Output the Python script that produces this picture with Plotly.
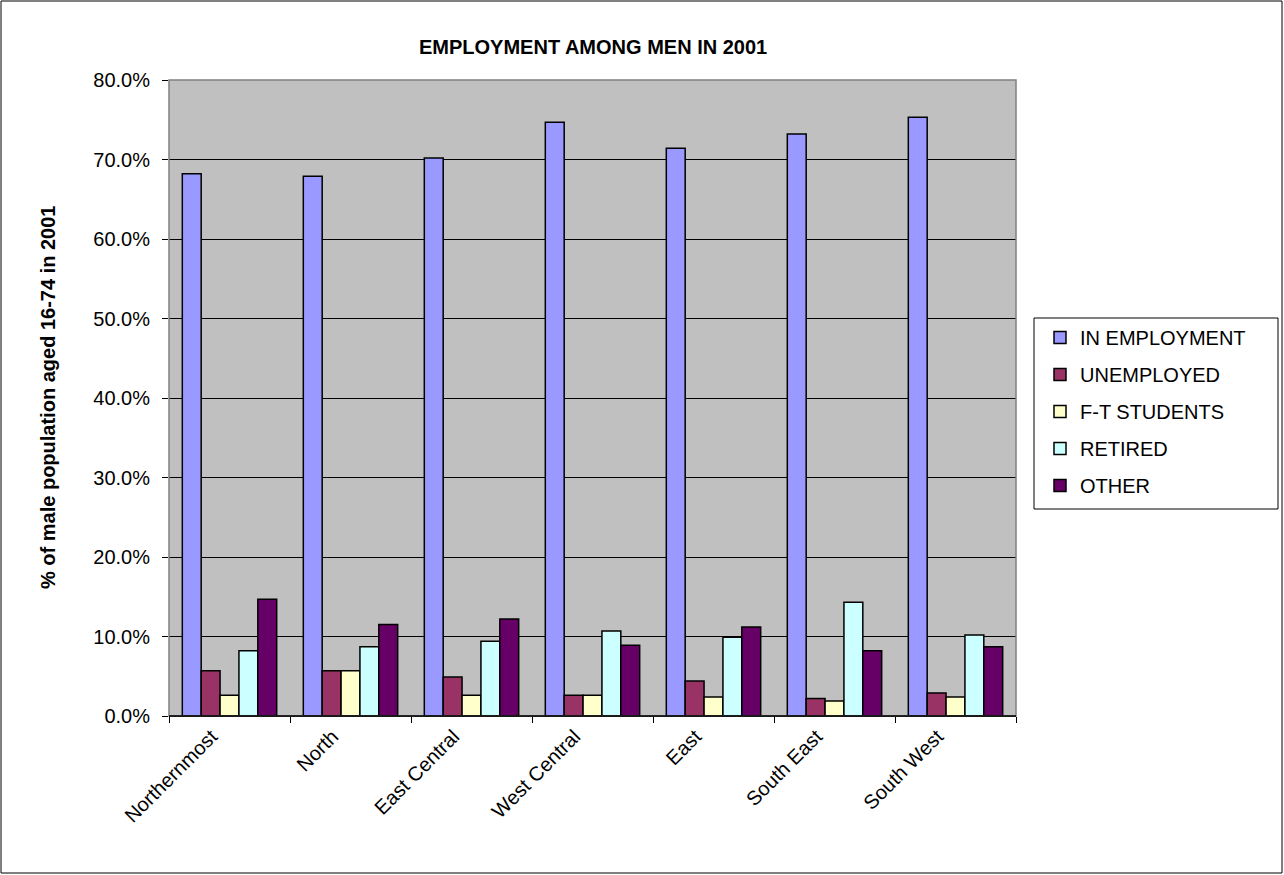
import plotly.graph_objects as go

regions = ["Northernmost", "North", "East Central", "West Central", "East", "South East", "South West"]
in_employment = [68.2, 67.9, 70.2, 74.7, 71.4, 73.2, 75.3]
unemployed = [5.7, 5.7, 4.9, 2.6, 4.4, 2.2, 2.9]
ft_students = [2.6, 5.7, 2.6, 2.6, 2.4, 1.9, 2.4]
retired = [8.2, 8.7, 9.4, 10.7, 9.9, 14.3, 10.2]
other = [14.7, 11.5, 12.2, 8.9, 11.2, 8.2, 8.7]

series_names = ["IN EMPLOYMENT", "UNEMPLOYED", "F-T STUDENTS", "RETIRED", "OTHER"]
series_values = [in_employment, unemployed, ft_students, retired, other]
series_colors = ["#9999FF", "#993366", "#FFFFCC", "#CCFFFF", "#660066"]

W, H = 1284, 875
L, R, T, B = 169, 1016, 80, 716
pw, ph = R - L, B - T

def px_x(x):
    return (x - L) / pw

def px_y(y):
    return (B - y) / ph

fig = go.Figure()
for i, (name, vals, col) in enumerate(zip(series_names, series_values, series_colors)):
    fig.add_trace(go.Bar(
        x=regions, y=vals, name=name, legendgroup=f"g{i}",
        marker=dict(color=col, line=dict(color="black", width=1.5)),
    ))

font = "Arial, Liberation Sans, sans-serif"

fig.update_layout(
    width=W, height=H,
    margin=dict(l=L, r=W - R, t=T, b=H - B),
    paper_bgcolor="white",
    plot_bgcolor="#C0C0C0",
    barmode="group",
    bargap=0.22,
    bargroupgap=0,
    font=dict(family=font, size=20, color="black"),
    showlegend=True,
    legend=dict(
        x=px_x(1040), y=px_y(318), xanchor="left", yanchor="top",
        borderwidth=0, bgcolor="rgba(0,0,0,0)",
        font=dict(family=font, size=20, color="black"),
        tracegroupgap=8,
        itemwidth=30,
    ),
    xaxis=dict(
        type="category",
        tickangle=-45,
        ticks="outside", ticklen=6, tickcolor="black",
        tickson="boundaries",
        ticklabelshift=-18,
        showline=True, linecolor="black", linewidth=1,
        showgrid=False,
        tickfont=dict(family=font, size=20),
    ),
    yaxis=dict(
        range=[0, 80], dtick=10, tickformat=".1f", ticksuffix="%",
        ticks="outside", ticklen=6, tickcolor="black",
        ticklabelstandoff=8,
        showgrid=True, gridcolor="#000000", gridwidth=1,
        showline=False, zeroline=False,
        tickfont=dict(family=font, size=20),
    ),
    annotations=[
        dict(text="<b>EMPLOYMENT AMONG MEN IN 2001</b>", xref="paper", yref="paper",
             x=0.5, y=px_y(47), xanchor="center", yanchor="middle", showarrow=False,
             font=dict(family=font, size=20, color="black")),
        dict(text="<b>% of male population aged 16-74 in 2001</b>", xref="paper", yref="paper",
             x=px_x(48), y=px_y(398), xanchor="center", yanchor="middle", showarrow=False,
             textangle=-90, font=dict(family=font, size=20, color="black")),
    ],
    shapes=[
        dict(type="rect", xref="paper", yref="paper", x0=0, x1=1, y0=0, y1=1,
             line=dict(color="#808080", width=1.5), fillcolor="rgba(0,0,0,0)", layer="above"),
        dict(type="line", xref="paper", yref="paper", x0=0, x1=1, y0=0, y1=0,
             line=dict(color="black", width=1.5), layer="above"),
        dict(type="rect", xref="paper", yref="paper",
             x0=px_x(1), x1=px_x(1282), y0=px_y(1), y1=px_y(873),
             line=dict(color="black", width=1), fillcolor="rgba(0,0,0,0)"),
        dict(type="rect", xref="paper", yref="paper",
             x0=px_x(1034), x1=px_x(1278), y0=px_y(318), y1=px_y(509),
             line=dict(color="black", width=1), fillcolor="white", layer="below"),
    ],
)

fig.write_html("out.html", config={"displayModeBar": False},
               post_script="document.body.style.margin='0';document.body.style.overflow='hidden';")
